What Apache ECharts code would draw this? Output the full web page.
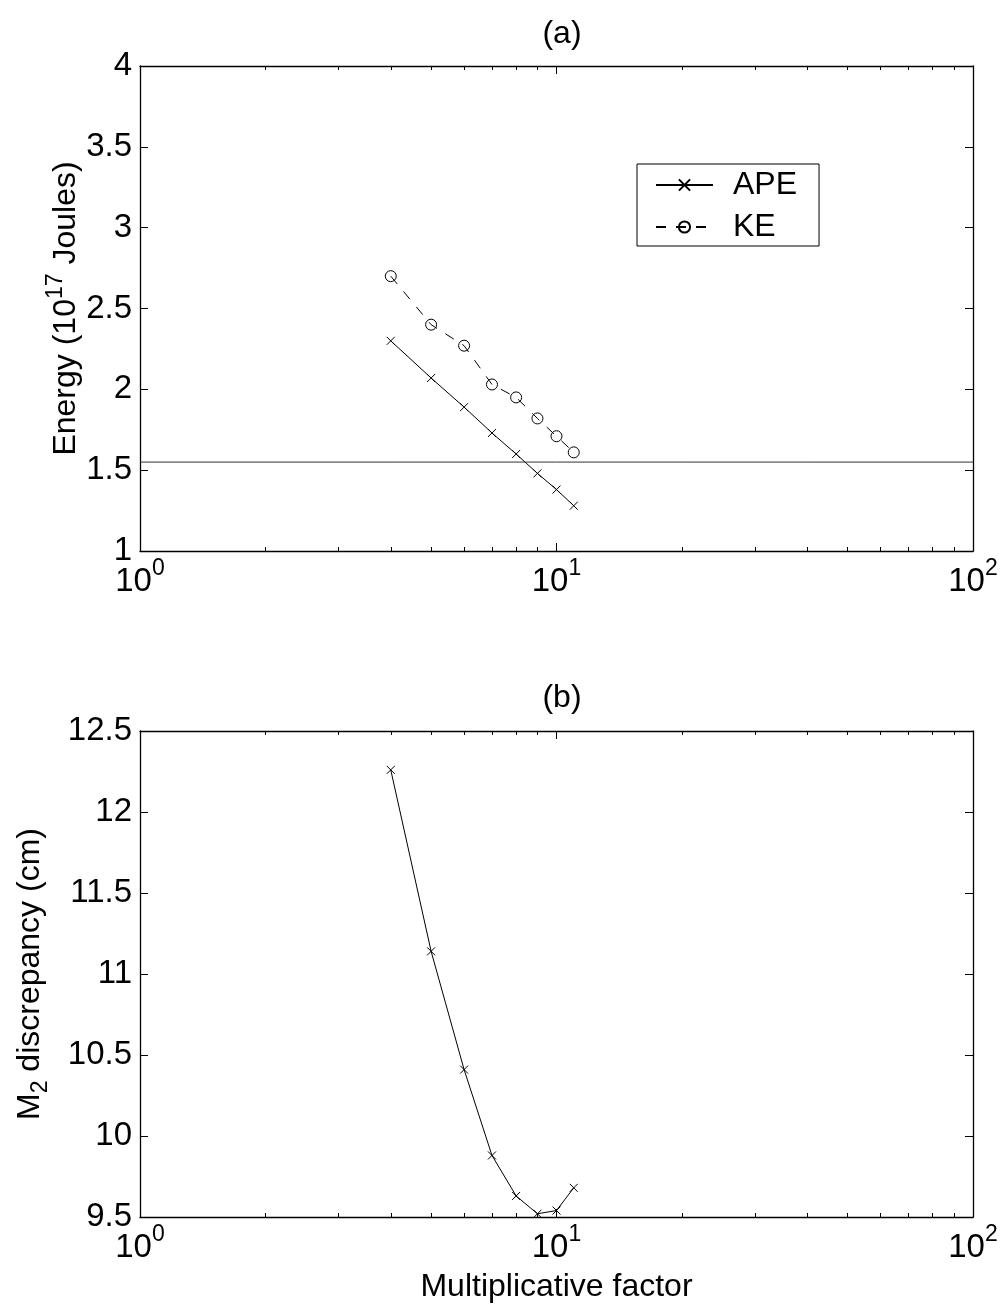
<!DOCTYPE html>
<html>
<head>
<meta charset="utf-8">
<script src="https://cdn.jsdelivr.net/npm/echarts@6/dist/echarts.min.js"></script>
<style>
html, body { margin: 0; padding: 0; background: #fff; }
#main { width: 1003px; height: 1305px; }
</style>
</head>
<body>
<div id="main"></div>
<script>
// data
var factor = [4, 5, 6, 7, 8, 9, 10, 11];
var ape = [2.30, 2.07, 1.89, 1.73, 1.60, 1.48, 1.38, 1.28];
var ke = [2.70, 2.40, 2.27, 2.03, 1.95, 1.82, 1.71, 1.61];
var refLevel = 1.55;
var m2 = [12.26, 11.14, 10.41, 9.88, 9.63, 9.52, 9.54, 9.68];

// axis ticks
var xMajor = [1, 10, 100];
var xMinor = [2, 3, 4, 5, 6, 7, 8, 9, 20, 30, 40, 50, 60, 70, 80, 90];
var energyTicks = [1, 1.5, 2, 2.5, 3, 3.5, 4];
var m2Ticks = [9.5, 10, 10.5, 11, 11.5, 12, 12.5];

var FONT = 'Liberation Sans';
var crossPath = 'path://M0,0L10,10M10,0L0,10';

function pairs(xs, ys) {
    return xs.map(function (x, i) { return [x, ys[i]]; });
}

function logLabel(v) {
    return '10{sup|' + Math.round(Math.log10(v)) + '}';
}

// four x axes per grid: bottom/top, major/minor ticks
function xAxesFor(grid, name) {
    var base = {
        type: 'log', logBase: 10, gridIndex: grid,
        min: xMajor[0], max: xMajor[xMajor.length - 1],
        splitLine: { show: false }
    };
    var major = function (pos, labels) {
        return Object.assign({}, base, {
            position: pos,
            name: labels ? name : '',
            nameLocation: 'middle',
            nameGap: 54,
            nameMoveOverlap: false,
            nameTextStyle: { fontFamily: FONT, fontSize: 32, color: '#000' },
            axisLine: { show: true, lineStyle: { color: '#000', width: 1.3 } },
            axisTick: { show: true, inside: true, length: 8, customValues: xMajor,
                lineStyle: { color: '#000', width: 1 } },
            axisLabel: {
                show: labels, customValues: xMajor, margin: 6,
                showMinLabel: true, showMaxLabel: true,
                formatter: logLabel,
                fontFamily: FONT, fontSize: 33, color: '#000', lineHeight: 50,
                rich: { sup: { fontFamily: FONT, fontSize: 23, color: '#000', verticalAlign: 'top' } }
            }
        });
    };
    var minor = function (pos) {
        return Object.assign({}, base, {
            position: pos,
            axisLine: { show: false },
            axisTick: { show: true, inside: true, length: 4, customValues: xMinor,
                lineStyle: { color: '#000', width: 1 } },
            axisLabel: { show: false }
        });
    };
    return [major('bottom', true), minor('bottom'), major('top', false), minor('top')];
}

function yAxesFor(grid, ticks, name, gap, rich) {
    var base = {
        type: 'value', gridIndex: grid,
        min: ticks[0], max: ticks[ticks.length - 1], interval: 0.5,
        splitLine: { show: false },
        axisLine: { show: true, lineStyle: { color: '#000', width: 1.3 } },
        axisTick: { show: true, inside: true, length: 8, lineStyle: { color: '#000', width: 1 } }
    };
    return [
        Object.assign({}, base, {
            position: 'left',
            name: name, nameLocation: 'middle', nameGap: gap, nameRotate: 90,
            nameMoveOverlap: false,
            nameTextStyle: { fontFamily: FONT, fontSize: 32, color: '#000', lineHeight: 44, rich: rich },
            axisLabel: { show: true, margin: 8, fontFamily: FONT, fontSize: 33, color: '#000',
                showMinLabel: true, showMaxLabel: true }
        }),
        Object.assign({}, base, { position: 'right', axisLabel: { show: false } })
    ];
}

var myChart = echarts.init(document.getElementById('main'), null, { renderer: 'canvas' });

var option = {
    backgroundColor: '#fff',
    animation: false,
    textStyle: { fontFamily: FONT },
    title: [
        { text: '(a)', left: 557, top: 13, textAlign: 'center',
          textStyle: { fontFamily: FONT, fontSize: 32, fontWeight: 'normal', color: '#000' } },
        { text: '(b)', left: 557, top: 677, textAlign: 'center',
          textStyle: { fontFamily: FONT, fontSize: 32, fontWeight: 'normal', color: '#000' } }
    ],
    grid: [
        { left: 140, right: 30, top: 66, height: 485, containLabel: false, outerBoundsMode: 'none' },
        { left: 140, right: 30, top: 731, height: 486, containLabel: false, outerBoundsMode: 'none' }
    ],
    legend: {
        data: ['APE', 'KE'],
        orient: 'vertical',
        left: 637, top: 164,
        itemWidth: 57, itemHeight: 14, itemGap: 10,
        padding: [5, 22, 3, 18],
        borderColor: '#000', borderWidth: 1, borderRadius: 0,
        backgroundColor: '#fff',
        selectedMode: false,
        textStyle: { fontFamily: FONT, fontSize: 32, color: '#000', lineHeight: 32, padding: [0, 0, 0, 15] }
    },
    xAxis: xAxesFor(0, '').concat(xAxesFor(1, 'Multiplicative factor')),
    yAxis: yAxesFor(0, energyTicks, 'Energy (10{sup|17} Joules)', 52,
                { sup: { fontFamily: FONT, fontSize: 23, color: '#000', verticalAlign: 'top' } })
        .concat(yAxesFor(1, m2Ticks, 'M{sub|2} discrepancy (cm)', 88,
                { sub: { fontFamily: FONT, fontSize: 23, color: '#000', verticalAlign: 'bottom' } })),
    series: [
        {
            name: 'APE', type: 'line', xAxisIndex: 0, yAxisIndex: 0,
            data: pairs(factor, ape),
            symbol: crossPath, symbolSize: 8,
            lineStyle: { color: '#000', width: 1 },
            itemStyle: { color: 'none', borderColor: '#000', borderWidth: 1 },
            emphasis: { disabled: true }
        },
        {
            name: 'KE', type: 'line', xAxisIndex: 0, yAxisIndex: 0,
            data: pairs(factor, ke),
            symbol: 'circle', symbolSize: 11,
            lineStyle: { color: '#000', width: 1, type: [10, 10] },
            itemStyle: { color: 'none', borderColor: '#000', borderWidth: 1 },
            emphasis: { disabled: true }
        },
        {
            name: 'ref', type: 'line', xAxisIndex: 0, yAxisIndex: 0,
            data: [[xMajor[0], refLevel], [xMajor[xMajor.length - 1], refLevel]],
            symbol: 'none', silent: true,
            lineStyle: { color: '#333', width: 1 },
            emphasis: { disabled: true }
        },
        {
            name: 'M2', type: 'line', xAxisIndex: 4, yAxisIndex: 2,
            data: pairs(factor, m2),
            symbol: crossPath, symbolSize: 8,
            lineStyle: { color: '#000', width: 1 },
            itemStyle: { color: 'none', borderColor: '#000', borderWidth: 1 },
            emphasis: { disabled: true }
        }
    ]
};

myChart.setOption(option);
</script>
</body>
</html>
